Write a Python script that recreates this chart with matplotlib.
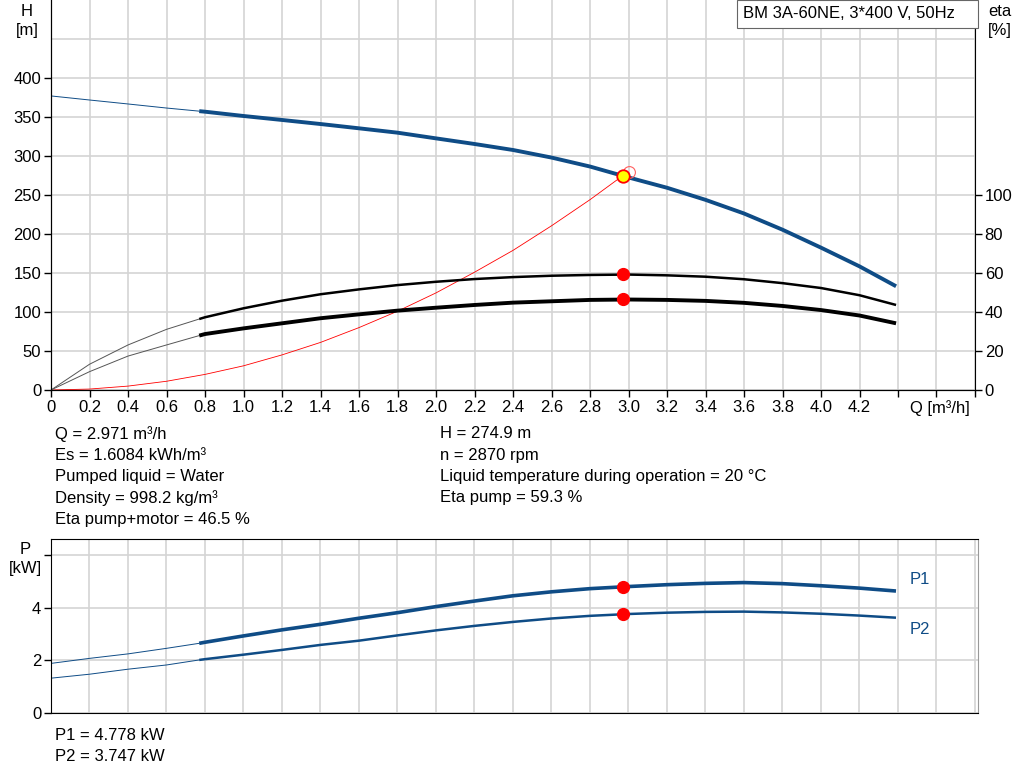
import numpy as np
import matplotlib
matplotlib.use("Agg")
import matplotlib.pyplot as plt
from matplotlib.patches import Rectangle

plt.rcParams["font.family"] = ["Liberation Sans", "DejaVu Sans"]
plt.rcParams["font.size"] = 12

# --- data ---
q_thin = [0, 0.2, 0.4, 0.6, 0.77]
q_main = [0.77, 0.8, 1.0, 1.2, 1.4, 1.6, 1.8, 2.0, 2.2, 2.4, 2.6, 2.8, 3.0,
          3.2, 3.4, 3.6, 3.8, 4.0, 4.2, 4.39]

h_thin = [377, 371.8, 366.7, 361.5, 357.5]
h_main = [357.5, 356.8, 351.3, 346.2, 341.0, 335.5, 329.9, 322.6, 315.4, 307.7,
          298.0, 286.5, 272.5, 259.3, 243.8, 226.3, 205.5, 182.5, 158.5, 133.0]

eta_p_thin = [0, 13.2, 23.1, 31.1, 36.4]
eta_p_main = [36.4, 37.3, 41.9, 45.8, 49.1, 51.6, 53.8, 55.5, 56.9, 57.9,
              58.6, 59.0, 59.2, 58.8, 58.1, 56.8, 54.8, 52.3, 48.6, 43.6]
eta_pm_thin = [0, 9.4, 17.4, 23.1, 27.9]
eta_pm_main = [27.9, 28.7, 31.6, 34.2, 36.8, 38.8, 40.7, 42.2, 43.6, 44.8,
               45.5, 46.2, 46.4, 46.2, 45.7, 44.7, 43.1, 41.0, 38.2, 34.2]

q_sys = [0, 0.2, 0.4, 0.6, 0.8, 1.0, 1.2, 1.4, 1.6, 1.8, 2.0, 2.2, 2.4,
         2.6, 2.8, 2.971]
h_sys = [0, 1.2, 5, 11.2, 20, 31, 45, 61, 80, 101, 124.5, 151, 179,
         210.5, 244, 274.9]

p1_thin = [1.89, 2.08, 2.25, 2.46, 2.65]
p1_main = [2.65, 2.69, 2.93, 3.16, 3.37, 3.60, 3.81, 4.04, 4.25, 4.45,
           4.60, 4.72, 4.80, 4.87, 4.92, 4.95, 4.91, 4.83, 4.74, 4.63]
p2_thin = [1.33, 1.48, 1.67, 1.83, 2.02]
p2_main = [2.02, 2.05, 2.22, 2.40, 2.59, 2.75, 2.95, 3.14, 3.31, 3.46,
           3.59, 3.69, 3.76, 3.81, 3.84, 3.85, 3.82, 3.77, 3.70, 3.62]

q_op, h_op = 2.971, 274.9
eta_p_op, eta_pm_op = 59.3, 46.5
p1_op, p2_op = 4.778, 3.747
q_ref, h_ref = 3.0, 280

info_left = ["Q = 2.971 m³/h", "Es = 1.6084 kWh/m³", "Pumped liquid = Water",
             "Density = 998.2 kg/m³", "Eta pump+motor = 46.5 %"]
info_right = ["H = 274.9 m", "n = 2870 rpm",
              "Liquid temperature during operation = 20 °C", "Eta pump = 59.3 %"]
power_info = ["P1 = 4.778 kW", "P2 = 3.747 kW"]
title = "BM 3A-60NE, 3*400 V, 50Hz"

BLUE = "#0f4c86"
GRID = "#d4d4d4"
W, H = 1024, 781


def fx(px):
    return px / W


def fy(py):
    return 1 - py / H


fig = plt.figure(figsize=(W / 100, H / 100), dpi=100)

# --- top chart: head + efficiency ---
ax = fig.add_axes([fx(51), fy(390), fx(924), 390 / H])
ax.set_xlim(0, 4.8)
ax.set_ylim(0, 500)
xt = np.round(np.arange(0, 4.81, 0.2), 1)
ax.set_xticks(xt)
ax.set_xticklabels(["0" if v == 0 else (f"{v:.1f}" if v < 4.3 else "") for v in xt])
ax.set_yticks(np.arange(0, 401, 50))
ax.grid(True, color=GRID, lw=1.2)
ax.axhline(450, color=GRID, lw=1.2, zorder=0.5)
ax.set_axisbelow(True)
ax.spines["top"].set_visible(False)
ax.spines["right"].set_visible(False)
ax.tick_params(direction="out", length=5, width=1, pad=2, labelsize=12)

ax.plot(q_thin, h_thin, color=BLUE, lw=0.7)
ax.plot(q_main, h_main, color=BLUE, lw=2.8, solid_capstyle="butt")
ax.plot(q_sys, h_sys, color="red", lw=0.6)
ax.plot(q_ref, h_ref, "o", ms=8.5, mfc="none", mec="#ff6060", mew=0.8, zorder=4)
ax.plot(q_op, h_op, "o", ms=9, mfc="yellow", mec="red", mew=1.3, zorder=5)

ax2 = ax.twinx()
ax2.set_ylim(0, 200)
ax2.set_yticks(np.arange(0, 101, 20))
ax2.spines["top"].set_visible(False)
ax2.tick_params(direction="out", length=5, width=1, pad=2, labelsize=12)
ax2.plot(q_thin, eta_p_thin, color="#555555", lw=0.7)
ax2.plot(q_thin, eta_pm_thin, color="#555555", lw=0.7)
ax2.plot(q_main, eta_p_main, color="black", lw=1.8, solid_capstyle="butt")
ax2.plot(q_main, eta_pm_main, color="black", lw=2.8, solid_capstyle="butt")
ax2.plot([q_op, q_op], [eta_p_op, eta_pm_op], "o", ms=8.5, color="red",
         mec="red", ls="none", zorder=5)

fig.text(fx(27), fy(11), "H", ha="center", va="center")
fig.text(fx(27), fy(30), "[m]", ha="center", va="center")
fig.text(fx(1000), fy(11), "eta", ha="center", va="center")
fig.text(fx(1000), fy(30), "[%]", ha="center", va="center")
fig.text(fx(940), fy(408), "Q [m³/h]", ha="center", va="center")

fig.patches.append(Rectangle((fx(737), fy(28)), fx(241), 28 / H, transform=fig.transFigure,
                             fc="white", ec="#666666", lw=0.8, zorder=10))
fig.text(fx(743), fy(14), title, ha="left", va="center", zorder=11)

for i, s in enumerate(info_left):
    fig.text(fx(55), fy(434 + i * 21.3), s, ha="left", va="center")
for i, s in enumerate(info_right):
    fig.text(fx(440), fy(434 + i * 21.3), s, ha="left", va="center")

# --- bottom chart: power ---
bx = fig.add_axes([fx(51), fy(713.3), fx(927), 174.3 / H])
bx.set_xlim(0, 4.816)
bx.set_ylim(0, 6.6)
bx.set_xticks(xt)
bx.set_xticklabels([])
bx.set_yticks([0, 2, 4, 6])
bx.set_yticklabels(["0", "2", "4", ""])
bx.grid(True, color=GRID, lw=1.2)
bx.set_axisbelow(True)
bx.tick_params(axis="x", length=0)
bx.tick_params(axis="y", direction="out", length=5, width=1, pad=2, labelsize=12)
bx.spines["top"].set_linewidth(0.8)
bx.spines["right"].set_color("#999999")
bx.spines["right"].set_linewidth(0.8)

bx.plot(q_thin, p1_thin, color=BLUE, lw=0.7)
bx.plot(q_thin, p2_thin, color=BLUE, lw=0.7)
bx.plot(q_main, p1_main, color=BLUE, lw=2.6, solid_capstyle="butt")
bx.plot(q_main, p2_main, color=BLUE, lw=1.8, solid_capstyle="butt")
bx.plot([q_op, q_op], [p1_op, p2_op], "o", ms=8.5, color="red", ls="none", zorder=5)

fig.text(fx(25), fy(549), "P", ha="center", va="center")
fig.text(fx(25), fy(569), "[kW]", ha="center", va="center")
fig.text(fx(910), fy(579), "P1", ha="left", va="center", color=BLUE)
fig.text(fx(910), fy(629), "P2", ha="left", va="center", color=BLUE)
for i, s in enumerate(power_info):
    fig.text(fx(55), fy(736 + i * 20.5), s, ha="left", va="center")

fig.savefig("out.png", dpi=100)
